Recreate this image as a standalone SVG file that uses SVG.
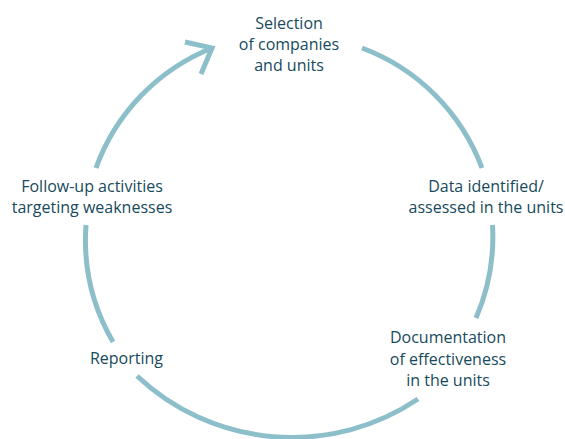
<svg xmlns="http://www.w3.org/2000/svg" width="565" height="439" viewBox="0 0 565 439">
<style>
.arc{fill:none;stroke:#8dbfcb;stroke-width:5;stroke-linecap:butt}
.lbl{font-family:"Open Sans","Noto Sans",sans-serif;font-size:16px;fill:#174a5c;text-anchor:middle}
</style>
<rect width="565" height="439" fill="#ffffff"/>
<g id="connectors">
<path class="arc" d="M362,48 A204,204 0 0,1 482,168"/>
<path class="arc" d="M492.5,225 A204,204 0 0,1 476,318"/>
<path class="arc" d="M418,399 A226,226 0 0,1 137,376"/>
<path class="arc" d="M113,342 A204,204 0 0,1 86,225"/>
<path class="arc" d="M96,168 A204,204 0 0,1 212,48"/>
<polyline class="arc" points="185,42 212,48 201,74" stroke-linejoin="miter"/>
</g>
<g id="selection">
<text class="lbl" x="289" y="29">Selection</text>
<text class="lbl" x="289" y="50">of companies</text>
<text class="lbl" x="289" y="71">and units</text>
</g>
<g id="data">
<text class="lbl" x="486" y="191.5">Data identified/</text>
<text class="lbl" x="486" y="212.5">assessed in the units</text>
</g>
<g id="documentation">
<text class="lbl" x="448" y="343.3">Documentation</text>
<text class="lbl" x="448" y="364.6">of effectiveness</text>
<text class="lbl" x="448" y="386">in the units</text>
</g>
<g id="reporting">
<text class="lbl" x="126.5" y="364">Reporting</text>
</g>
<g id="followup">
<text class="lbl" x="92" y="191.5">Follow-up activities</text>
<text class="lbl" x="92" y="212.5">targeting weaknesses</text>
</g>
</svg>
